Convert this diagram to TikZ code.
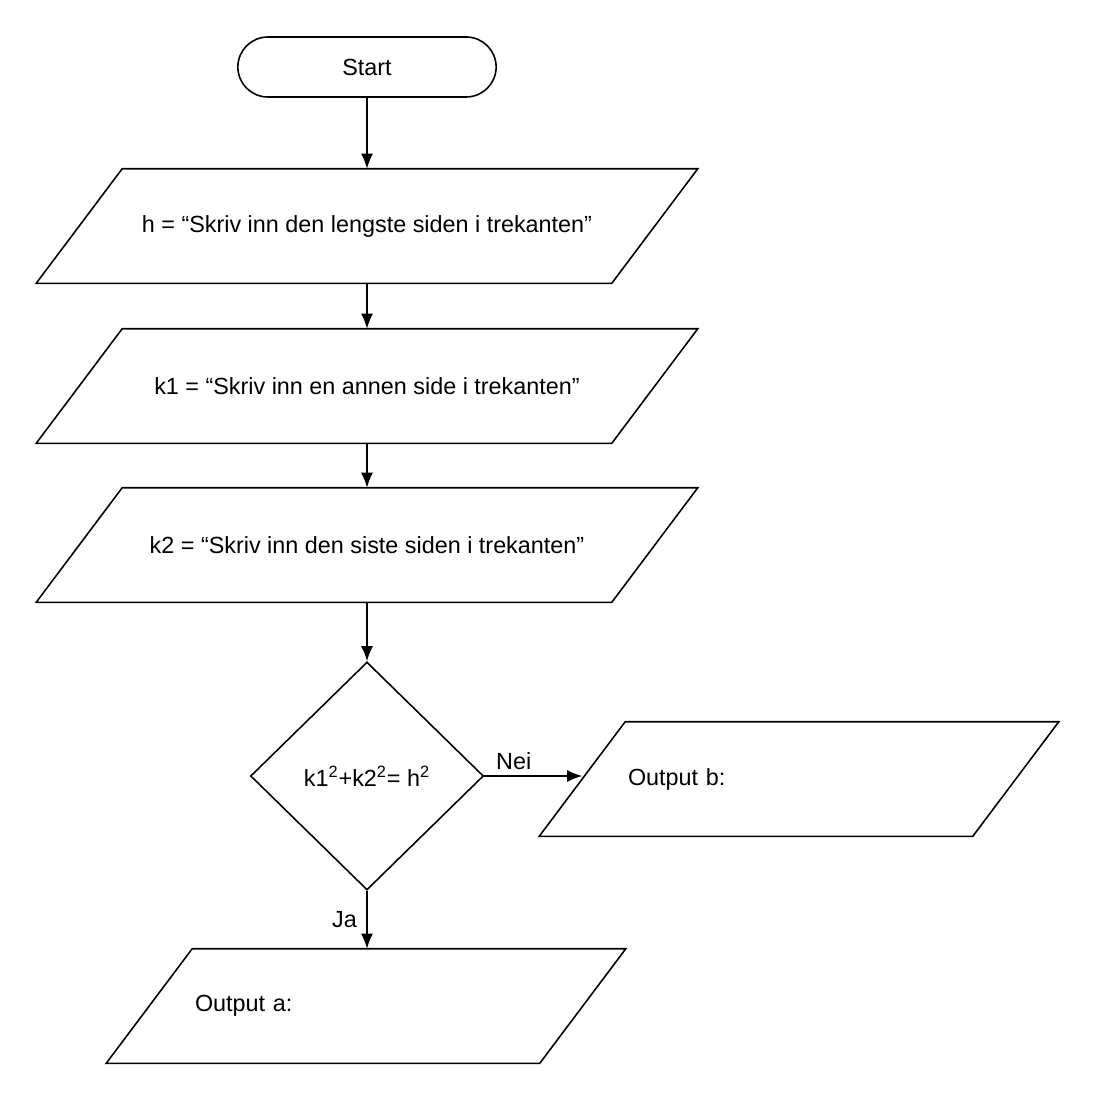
\documentclass[tikz,border=0pt]{standalone}
\usepackage{fontspec}
\setmainfont{Liberation Sans}
\usetikzlibrary{shapes.geometric,shapes.misc,arrows.meta,calc}

\begin{document}
\begin{tikzpicture}[>={Latex[length=3mm,width=2.4mm]},line width=0.9pt,font=\fontsize{13.3}{16}\selectfont]
  \tikzstyle{io}=[inner sep=0pt,minimum height=2.26cm]
  \useasboundingbox (0,0) rectangle (22.2,-22.2);
  \node[draw,rounded rectangle,minimum width=5.4cm,minimum height=1.2cm] (start) at (7.34,-1.34) {Start};
  \node[io,minimum width=11.48cm] (in_h) at (7.34,-4.52) {h = “Skriv inn den lengste siden i trekanten”};
  \node[io,minimum width=11.48cm] (in_k1) at (7.34,-7.72) {k1 = “Skriv inn en annen side i trekanten”};
  \node[io,minimum width=11.48cm] (in_k2) at (7.34,-10.9) {k2 = “Skriv inn den siste siden i trekanten”};
  \node[draw,diamond,inner sep=0pt,minimum width=4.66cm,minimum height=4.56cm] (test) at (7.34,-15.52) {k1\textsuperscript{2}+k2\textsuperscript{2}= h\textsuperscript{2}};
  \node[io,minimum width=8.64cm,text width=6.84cm,align=left] (out_b) at (15.98,-15.58) {Output b:};
  \node[io,minimum width=8.64cm,text width=6.84cm,align=left] (out_a) at (7.32,-20.12) {Output a:};
  % slanted outlines
  \foreach \n in {in_h,in_k1,in_k2,out_a,out_b}
    \draw ($(\n.north west)+(0.86,0)$) -- ($(\n.north east)+(0.86,0)$) -- ($(\n.south east)+(-0.86,0)$) -- ($(\n.south west)+(-0.86,0)$) -- cycle;
  \path[->]
  (start) edge (in_h)
  (in_h) edge (in_k1)
  (in_k1) edge (in_k2)
  (in_k2) edge (test)
  (test.south) edge node[left=2pt] {Ja} (test.south |- out_a.north)
  (test.east) edge node[above,pos=0.3] {Nei} (test.east -| out_b.west)
  ;
\end{tikzpicture}
\end{document}
